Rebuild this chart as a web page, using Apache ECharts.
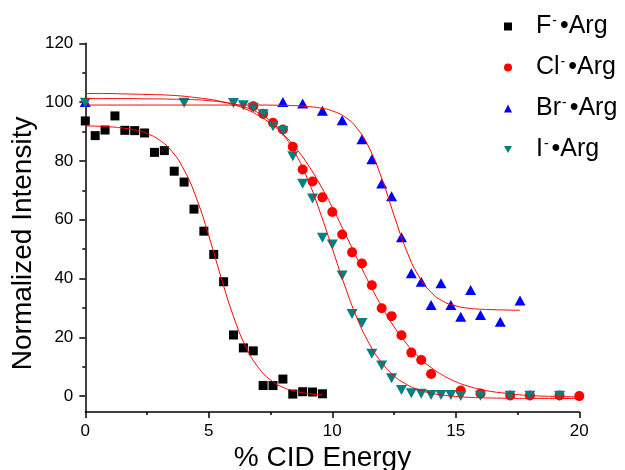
<!DOCTYPE html>
<html><head><meta charset="utf-8">
<script src="https://cdn.jsdelivr.net/npm/echarts@6/dist/echarts.min.js"></script>
<style>html,body{margin:0;padding:0;background:#fff}#c{width:625px;height:470px}</style>
</head><body><div id="c"></div>
<script>
// ---- data ----
const seriesNames = ['F-•Arg', 'Cl-•Arg', 'Br-•Arg', 'I-•Arg'];

const xF = [0,0.4,0.8,1.2,1.6,2.0,2.4,2.8,3.2,3.6,4.0,4.4,4.8,5.2,5.6,6.0,6.4,6.8,7.2,7.6,8.0,8.4,8.8,9.2,9.6];
const yF = [93.6,88.6,90.5,95.3,90.4,90.3,89.5,82.9,83.5,76.5,72.8,63.6,56.1,48.2,38.9,20.8,16.4,15.4,3.6,3.6,5.8,0.7,1.5,1.4,0.8];

const xCl = [6.8,7.2,7.6,8.0,8.4,8.8,9.2,9.6,10.0,10.4,10.8,11.2,11.6,12.0,12.4,12.8,13.2,13.6,14.0,15.2,16.0,17.2,18.0,19.2,20.0];
const yCl = [98.6,96.0,93.0,90.7,84.8,77.1,73.0,67.6,62.6,55.0,48.9,45.1,37.7,29.9,27.2,20.7,14.8,12.3,7.5,1.9,0.9,0.2,0.2,0.2,0.0];

const xBr = [0,8.0,8.8,9.6,10.4,11.2,11.6,12.0,12.4,12.8,13.2,13.6,14.0,14.4,14.8,15.2,15.6,16.0,16.8,17.6];
const yBr = [100.0,100.0,99.5,97.1,93.8,87.4,80.6,72.3,68.0,54.0,41.8,38.9,31.0,38.4,31.0,27.0,36.1,27.6,25.3,32.5];

const xI = [0,4.0,6.0,6.4,6.8,7.2,7.6,8.0,8.4,8.8,9.2,9.6,10.0,10.4,10.8,11.2,11.6,12.0,12.4,12.8,13.2,13.6,14.0,14.4,14.8,15.2,16.0,17.2,18.0,19.2];
const yI = [99.8,99.8,99.7,98.9,98.1,95.9,91.8,90.2,81.6,72.2,67.2,53.9,51.6,41.0,27.9,24.9,14.4,10.4,6.1,2.1,1.0,0.8,0.4,0.4,0.4,0.0,0.1,0.1,0.1,0.1];

// fitted curves
const fitFx = [0,0.5,1,1.5,2,2.5,3,3.5,4,4.5,5,5.5,6,6.5,7,7.5,8,8.5,9,9.6];
const fitFy = [91.9,91.8,91.6,91.2,90.5,89.3,87.1,83.3,76.9,67.3,54.5,40.3,27.1,16.8,9.8,5.5,3.0,1.7,0.9,0.4];

const fitClx = [0,0.5,1,1.5,2,2.5,3,3.5,4,4.5,5,5.5,6,6.5,7,7.5,8,8.5,9,9.5,10,10.5,11,11.5,12,12.5,13,13.5,14,14.5,15,15.5,16,16.5,17,17.5,18,18.5,19,19.5,20];
const fitCly = [102.9,102.9,102.9,102.8,102.7,102.6,102.5,102.3,102.0,101.5,101.0,100.2,99.1,97.6,95.5,92.7,89.2,84.6,78.9,72.0,64.2,55.6,46.9,38.3,30.5,23.6,17.9,13.3,9.7,7.0,4.9,3.4,2.3,1.5,1.0,0.5,0.2,0.0,-0.1,-0.2,-0.3];

const fitBrx = [0,1,2,3,4,5,6,7,8,8.5,9,9.5,10,10.5,11,11.5,12,12.5,13,13.5,14,14.5,15,15.5,16,16.5,17,17.6];
const fitBry = [99.0,99.0,99.0,99.0,99.0,99.0,99.0,99.0,98.9,98.8,98.5,98.0,97.0,95.0,91.1,84.3,74.1,61.5,49.6,40.8,35.3,32.2,30.7,29.9,29.55,29.4,29.3,29.2];

const fitIx = [0,0.5,1,1.5,2,2.5,3,3.5,4,4.5,5,5.5,6,6.5,7,7.5,8,8.5,9,9.5,10,10.5,11,11.5,12,12.5,13,13.5,14,14.5,15,15.5,16,16.5,17,17.5,18,18.5,19,19.5,20];
const fitIy = [101.2,101.2,101.2,101.2,101.2,101.1,101.1,101.0,100.9,100.8,100.5,100.1,99.4,98.2,96.4,93.5,89.1,82.6,73.8,62.7,50.2,37.7,26.6,17.8,11.4,6.9,4.0,2.2,1.0,0.3,-0.1,-0.4,-0.55,-0.65,-0.7,-0.74,-0.77,-0.78,-0.79,-0.79,-0.8];

const xTicks = [0,5,10,15,20];
const yTicks = [0,20,40,60,80,100,120];
const yMinorTicks = [10,30,50,70,90,110];

// ---- chart ----
const FONT = 'Liberation Sans, Arial, sans-serif';
const zip = (a, b) => a.map((v, i) => [v, b[i]]);
const downTri = 'path://M0,0L10,0L5,8.66Z';

const legendRich = {
  'F-•Arg': '{g| }{t|F}{s|-}{t|•Arg}',
  'Cl-•Arg': '{g| }{t|Cl}{s|-}{t|•Arg}',
  'Br-•Arg': '{g| }{t|Br}{s|-}{t|•Arg}',
  'I-•Arg': '{g| }{t|I}{s|-}{t|•Arg}'
};

const chart = echarts.init(document.getElementById('c'), null, {renderer: 'canvas'});

const scatterStyle = [
  {symbol: 'rect', size: 9, color: '#000000'},
  {symbol: 'circle', size: 10, color: '#ff0000'},
  {symbol: 'triangle', size: [11, 10], color: '#0000ff'},
  {symbol: downTri, size: [11, 10], color: '#008080'}
];
const dataSets = [zip(xF, yF), zip(xCl, yCl), zip(xBr, yBr), zip(xI, yI)];
const fitSets = [zip(fitFx, fitFy), zip(fitClx, fitCly), zip(fitBrx, fitBry), zip(fitIx, fitIy)];

const series = [];
seriesNames.forEach((n, i) => {
  series.push({
    name: n, type: 'scatter', data: dataSets[i],
    symbol: scatterStyle[i].symbol, symbolSize: scatterStyle[i].size,
    itemStyle: {color: scatterStyle[i].color, opacity: 1},
    z: 3, clip: false
  });
});
fitSets.forEach((d, i) => {
  series.push({
    name: 'fit' + i, type: 'line', data: d, showSymbol: false, symbol: 'none',
    smooth: 0.5,
    lineStyle: {color: '#ff0000', width: 1}, z: 4, silent: true
  });
});

chart.setOption({
  animation: false,
  backgroundColor: '#fff',
  grid: {left: 85.3, top: 43.3, width: 494, height: 368.7},
  legend: {
    orient: 'vertical', left: 499, top: 9,
    itemWidth: 8, itemHeight: 8, itemGap: 16,
    data: [
      {name: seriesNames[0], icon: 'rect'},
      {name: seriesNames[1], icon: 'circle'},
      {name: seriesNames[2], icon: 'triangle'},
      {name: seriesNames[3], icon: downTri}
    ],
    formatter: n => legendRich[n],
    textStyle: {
      color: '#000', fontFamily: FONT, fontSize: 25,
      rich: {
        g: {width: 19},
        t: {fontSize: 25, lineHeight: 25, color: '#000', fontFamily: FONT},
        s: {fontSize: 14, lineHeight: 14, color: '#000', fontFamily: FONT, padding: [0, 3, 11, 1]}
      }
    }
  },
  xAxis: {
    type: 'value', min: 0, max: 20, interval: 5,
    axisLine: {onZero: false, lineStyle: {color: '#000', width: 1.5}},
    axisTick: {show: true, length: 6, lineStyle: {color: '#000', width: 1.5}},
    minorTick: {show: true, splitNumber: 2, length: 3, lineStyle: {color: '#000', width: 1.5}},
    splitLine: {show: false},
    axisLabel: {fontSize: 17, color: '#000', fontFamily: FONT, margin: 11,
      customValues: xTicks}
  },
  yAxis: [
    {
      type: 'value', min: -5.4, max: 120,
      axisLine: {show: true, onZero: false, lineStyle: {color: '#000', width: 1.5}},
      axisTick: {show: true, length: 6, lineStyle: {color: '#000', width: 1.5}, customValues: yTicks},
      axisLabel: {fontSize: 17, color: '#000', fontFamily: FONT, margin: 12, customValues: yTicks},
      splitLine: {show: false}
    },
    {
      type: 'value', min: -5.4, max: 120, position: 'left',
      axisLine: {show: false, onZero: false},
      axisTick: {show: true, length: 3, lineStyle: {color: '#000', width: 1.5}, customValues: yMinorTicks},
      axisLabel: {show: false},
      splitLine: {show: false}
    }
  ],
  graphic: [
    {type: 'text', x: 23, y: 243.4, rotation: Math.PI / 2,
      style: {text: 'Normalized Intensity', fontSize: 28, fontFamily: FONT, fill: '#000',
        align: 'center', verticalAlign: 'middle'}},
    {type: 'text', x: 322.5, y: 458,
      style: {text: '% CID Energy', fontSize: 28, fontFamily: FONT, fill: '#000',
        align: 'center', verticalAlign: 'middle'}}
  ],
  series: series
});
</script></body></html>
